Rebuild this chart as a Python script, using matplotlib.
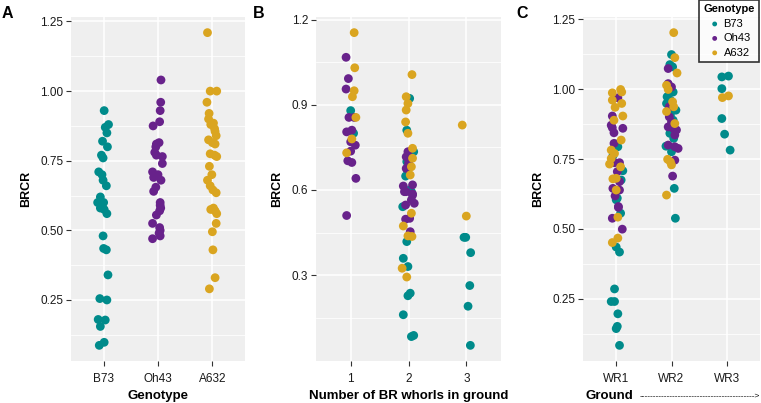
import matplotlib
matplotlib.use("Agg")
import matplotlib.pyplot as plt
import numpy as np

plt.rcParams['font.family'] = ['Liberation Sans', 'DejaVu Sans']

genotypes = ["B73", "Oh43", "A632"]
colors    = {"B73": "#008B8B", "Oh43": "#68228B", "A632": "#DAA520"}

# ---- panel A: BRCR by genotype (values + horizontal jitter)
a_vals = {
	"B73":  [0.93,0.88,0.87,0.85,0.82,0.80,0.77,0.76,0.71,0.70,0.68,0.66,0.62,0.60,0.60,
	         0.59,0.58,0.575,0.56,0.48,0.435,0.43,0.34,0.255,0.25,0.18,0.178,0.155,0.098,0.087],
	"Oh43": [1.04,0.96,0.93,0.89,0.875,0.815,0.81,0.80,0.78,0.77,0.765,0.74,0.71,0.70,0.69,
	         0.68,0.655,0.64,0.60,0.59,0.58,0.57,0.555,0.525,0.51,0.50,0.49,0.48,0.47],
	"A632": [1.21,1.00,1.00,0.96,0.92,0.90,0.885,0.88,0.865,0.855,0.84,0.825,0.815,0.81,0.775,
	         0.77,0.765,0.73,0.70,0.68,0.66,0.645,0.635,0.58,0.575,0.57,0.56,0.525,0.495,0.43,0.33,0.29],
}
a_jit = {
	"B73":  [0.01,0.09,0.03,0.06,-0.02,0.07,-0.04,-0.01,-0.09,-0.03,-0.01,0.05,-0.06,-0.11,0.0,
	         -0.03,-0.06,0.01,0.06,-0.01,0.0,0.05,0.08,-0.07,0.06,-0.1,0.03,-0.06,0.01,-0.08],
	"Oh43": [0.055,0.05,0.04,0.03,-0.09,0.02,-0.03,-0.04,-0.06,-0.03,0.08,0.08,-0.1,0.0,-0.08,
	         0.055,-0.04,-0.08,0.04,0.04,0.05,0.03,-0.03,-0.1,0.03,0.04,0.02,0.04,-0.1],
	"A632": [-0.09,-0.04,0.08,-0.1,-0.06,-0.07,0.02,-0.03,0.04,0.05,0.07,-0.07,0.0,0.05,-0.04,
	         0.04,0.08,-0.055,-0.01,-0.09,-0.04,0.01,0.07,0.02,-0.03,0.05,0.08,0.07,0.0,0.01,0.05,-0.055],
}

# ---- panel B: BRCR by number of BR whorls in ground
b_whorl = {
	"B73":  [1,1] + [2]*17 + [3]*6,
	"Oh43": [1]*14 + [2]*16,
	"A632": [1]*7 + [2]*16 + [3]*2,
}
b_vals = {
	"B73":  [0.88,0.80,
	         0.923,0.811,0.735,0.70,0.67,0.649,0.60,0.594,0.541,0.418,0.359,0.33,0.236,0.227,0.16,0.087,0.083,
	         0.433,0.433,0.379,0.263,0.19,0.052],
	"Oh43": [1.068,0.993,0.956,0.856,0.856,0.805,0.811,0.77,0.758,0.737,0.703,0.697,0.641,0.51,
	         0.735,0.717,0.694,0.676,0.614,0.618,0.594,0.586,0.594,0.582,0.565,0.547,0.553,0.50,0.497,0.453],
	"A632": [1.155,1.031,0.95,0.929,0.856,0.78,0.731,
	         1.007,0.929,0.905,0.882,0.84,0.80,0.747,0.712,0.682,0.653,0.518,0.473,0.438,0.436,0.324,0.293,
	         0.829,0.508],
}
b_jit = {
	"B73":  [0.0,0.05,
	         0.02,-0.03,0.09,-0.03,-0.02,-0.05,0.02,0.05,-0.1,-0.03,-0.09,-0.01,0.03,-0.01,-0.09,0.09,0.05,
	         -0.04,-0.01,0.075,0.06,0.03,0.07],
	"Oh43": [-0.08,-0.04,-0.08,-0.03,0.06,-0.07,0.02,0.0,0.08,0.0,-0.05,0.02,0.09,-0.07,
	         -0.01,-0.04,0.0,-0.04,-0.09,0.07,-0.04,0.07,-0.07,0.07,0.05,-0.05,0.1,0.02,-0.05,0.03],
	"A632": [0.06,0.07,0.06,0.03,0.09,0.02,-0.07,
	         0.06,-0.04,-0.01,-0.04,-0.05,-0.01,0.07,0.07,0.05,0.03,0.05,-0.09,-0.01,0.06,-0.11,-0.03,
	         -0.07,0.0],
}

# ---- panel C: BRCR by whorl position (WR1..WR3)
c_wr = {
	"B73":  [1]*17 + [2]*17 + [3]*6,
	"Oh43": [1]*18 + [2]*15,
	"A632": [1]*20 + [2]*13 + [3]*2,
}
c_vals = {
	"B73":  [0.804,0.794,0.761,0.708,0.675,0.61,0.604,0.556,0.435,0.417,0.285,0.24,0.24,0.196,0.151,0.143,0.083,
	         1.124,1.088,1.08,0.99,0.973,0.961,0.949,0.925,0.919,0.907,0.889,0.842,0.824,0.796,0.776,0.645,0.538,
	         1.044,1.047,1.002,0.895,0.839,0.782],
	"Oh43": [0.969,0.904,0.871,0.862,0.86,0.844,0.806,0.737,0.737,0.705,0.669,0.645,0.639,0.618,0.58,0.577,0.538,0.499,
	         1.074,1.02,1.008,0.937,0.901,0.883,0.865,0.86,0.854,0.836,0.80,0.794,0.788,0.746,0.689],
	"A632": [0.987,0.999,0.99,0.961,0.949,0.935,0.904,0.889,0.818,0.782,0.77,0.752,0.732,0.722,0.681,0.679,0.639,0.542,0.467,0.451,
	         1.2025,1.113,1.058,1.014,0.999,0.955,0.937,0.92,0.877,0.749,0.74,0.729,0.621,
	         0.97,0.976],
}
c_jit = {
	"B73":  [-0.01,0.03,-0.06,0.12,0.09,0.02,0.0,0.08,0.0,0.06,-0.03,-0.09,-0.03,0.03,0.02,0.0,0.06,
	         0.0,-0.03,0.02,0.03,-0.08,-0.02,-0.09,0.08,-0.06,-0.02,0.03,-0.03,0.04,-0.1,0.0,0.05,0.07,
	         -0.09,0.03,-0.09,-0.09,-0.04,0.06],
	"Oh43": [0.03,-0.07,-0.09,-0.07,0.12,-0.04,-0.04,-0.03,0.06,0.02,0.06,-0.06,0.06,-0.02,0.04,0.04,-0.07,0.11,
	         -0.06,-0.06,0.0,-0.04,-0.04,0.0,-0.06,0.03,0.09,0.06,-0.06,0.06,0.12,0.06,0.02],
	"A632": [-0.07,0.08,0.1,-0.07,0.1,-0.02,0.12,-0.04,0.09,-0.09,-0.03,-0.09,-0.12,0.08,0.0,-0.06,0.0,0.03,0.03,-0.07,
	         0.04,0.06,0.1,-0.09,-0.06,0.02,0.04,-0.09,0.06,-0.07,-0.02,0.0,-0.09,
	         -0.08,0.03],
}

W, H = 761, 403
DOT = 40

def style(ax, majors, minors, labels, xlabel):
	ax.set_facecolor('#EFEFEF')
	for s in ax.spines.values():
		s.set_visible(False)
	ax.set_xlim(0.4, 3.6)
	ax.set_xticks([1, 2, 3])
	ax.set_xticklabels(labels)
	ax.set_yticks(majors)
	ax.set_yticks(minors, minor=True)
	ax.grid(which='major', color='white', linewidth=1.1)
	ax.grid(which='minor', axis='y', color='white', linewidth=0.55)
	ax.set_axisbelow(True)
	ax.tick_params(which='major', length=3.5, width=0.8, color='#333333',
	               labelsize=8.5, labelcolor='#1a1a1a', pad=2)
	ax.tick_params(axis='x', which='major', pad=5)
	ax.tick_params(which='minor', length=0)
	ax.set_ylabel("BRCR", fontsize=9, fontweight='bold', labelpad=6)
	ax.set_xlabel(xlabel, fontsize=9.5, fontweight='bold', labelpad=4)

def ylim(ax, vals):
	allv = np.concatenate([np.array(vals[g]) for g in genotypes])
	lo, hi = allv.min(), allv.max()
	pad = 0.05*(hi-lo)
	ax.set_ylim(lo-pad, hi+pad)

def rect(l, r, t=17, b=361):
	return [l/W, 1-b/H, (r-l)/W, (b-t)/H]

fig = plt.figure(figsize=(W/100, H/100), dpi=100)

# panel A
ax1 = fig.add_axes(rect(71, 245))
for i, g in enumerate(genotypes):
	x = (i+1) + np.array(a_jit[g])
	ax1.scatter(x, a_vals[g], s=DOT, color=colors[g], edgecolors='none', zorder=3)
ylim(ax1, a_vals)
style(ax1, [0.25,0.50,0.75,1.00,1.25], [0.125,0.375,0.625,0.875,1.125], genotypes, "Genotype")
ax1.set_yticklabels(["0.25","0.50","0.75","1.00","1.25"])

# panel B
ax2 = fig.add_axes(rect(316, 501))
for g in genotypes:
	x = np.array(b_whorl[g]) + np.array(b_jit[g])
	ax2.scatter(x, b_vals[g], s=DOT, color=colors[g], edgecolors='none', zorder=3)
ylim(ax2, b_vals)
style(ax2, [0.3,0.6,0.9,1.2], [0.15,0.45,0.75,1.05], ["1","2","3"], "Number of BR whorls in ground")
ax2.set_yticklabels(["0.3","0.6","0.9","1.2"])

# panel C
ax3 = fig.add_axes(rect(583, 760))
for g in genotypes:
	x = np.array(c_wr[g]) + np.array(c_jit[g])
	ax3.scatter(x, c_vals[g], s=DOT, color=colors[g], edgecolors='none', zorder=3, label=g)
ylim(ax3, c_vals)
style(ax3, [0.25,0.50,0.75,1.00,1.25], [0.125,0.375,0.625,0.875,1.125], ["WR1","WR2","WR3"], "")
ax3.set_yticklabels(["0.25","0.50","0.75","1.00","1.25"])

# x title of panel C: bold word followed by a thin dashed arrow
fig.text(586/W, 1-396/H, "Ground", fontsize=9.5, fontweight='bold', va='center', ha='left')
fig.text(760/W, 1-396/H, "-"*42 + ">", fontsize=6, va='center', ha='right')

# panel letters
for txt, px in [("A", 2), ("B", 253), ("C", 516)]:
	fig.text(px/W, 1-14/H, txt, fontsize=11.5, fontweight='bold', va='center', ha='left')

leg = fig.legend(loc='upper right', bbox_to_anchor=(759/W, 1.0), title="Genotype",
                 fontsize=8, title_fontproperties={'weight': 'bold', 'size': 8},
                 frameon=True, fancybox=False, edgecolor='black', markerscale=0.55,
                 handletextpad=0.1, borderpad=0.4, labelspacing=0.4, handlelength=1.4,
                 borderaxespad=0.0)
leg.get_frame().set_linewidth(1.2)

fig.savefig("out.png", dpi=100)
